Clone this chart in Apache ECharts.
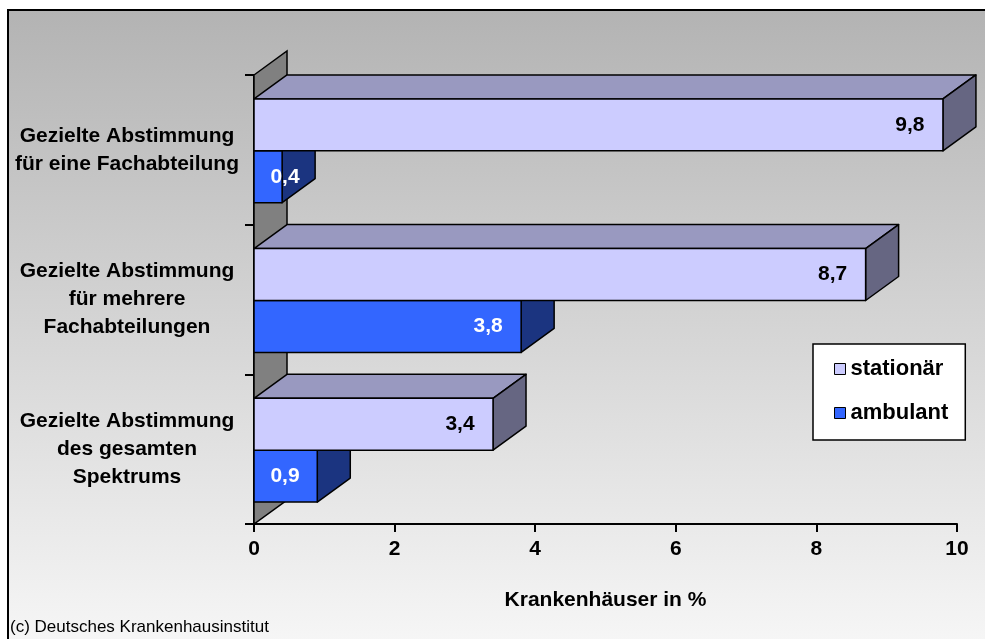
<!DOCTYPE html>
<html>
<head>
<meta charset="utf-8">
<script src="https://cdn.jsdelivr.net/npm/echarts@6/dist/echarts.min.js"></script>
<style>html,body{margin:0;padding:0;background:#fff}#c{width:985px;height:639px}</style>
</head>
<body>
<div id="c"></div>
<script>
const categories = [
  'Gezielte Abstimmung\nfür eine Fachabteilung',
  'Gezielte Abstimmung\nfür mehrere\nFachabteilungen',
  'Gezielte Abstimmung\ndes gesamten\nSpektrums'
];
const stationaer = [9.8, 8.7, 3.4];
const ambulant = [0.4, 3.8, 0.9];
const xTicks = [0, 2, 4, 6, 8, 10];

const FONT = "Arial, 'Liberation Sans', sans-serif";
const DX = 33, DY = -24;

function fmt(v) { return String(v).replace('.', ','); }

function barRenderer(front, top, side, upper, labelColor) {
  return function (params, api) {
    const v = api.value(0), ci = api.value(1);
    const p0 = api.coord([0, ci]);
    const p1 = api.coord([v, ci]);
    const band = api.size([0, 1])[1];
    const h = band * 52 / 150;
    const c = p0[1];
    const y0 = upper ? c - h + 1 : c + 1;
    const y1 = y0 + h;
    const x0 = p0[0], x1 = p1[0];
    const st = { stroke: '#000', lineWidth: 1.5, lineJoin: 'round' };
    const lx = Math.max(x1 - 33, x0 + 31);
    return {
      type: 'group',
      children: [
        { type: 'polygon', shape: { points: [[x0, y0], [x0 + DX, y0 + DY], [x1 + DX, y0 + DY], [x1, y0]] }, style: Object.assign({ fill: top }, st) },
        { type: 'polygon', shape: { points: [[x1, y0], [x1 + DX, y0 + DY], [x1 + DX, y1 + DY], [x1, y1]] }, style: Object.assign({ fill: side }, st) },
        { type: 'rect', shape: { x: x0, y: y0, width: x1 - x0, height: h }, style: Object.assign({ fill: front }, st) },
        { type: 'text', x: lx, y: (y0 + y1) / 2, style: { text: fmt(v), fill: labelColor, font: 'bold 21px ' + FONT, align: 'center', verticalAlign: 'middle' } }
      ]
    };
  };
}

const chart = echarts.init(document.getElementById('c'), null, { renderer: 'canvas' });
chart.setOption({
  backgroundColor: '#ffffff',
  animation: false,
  graphic: [
    { type: 'rect', z: -10, silent: true, shape: { x: 8, y: 10, width: 1000, height: 660 },
      style: { fill: new echarts.graphic.LinearGradient(0, 0, 0, 1, [{ offset: 0, color: '#B3B3B3' }, { offset: 1, color: '#F9F9F9' }]), stroke: '#000', lineWidth: 2 } },
    { type: 'text', left: 10, top: 619, style: { text: '(c) Deutsches Krankenhausinstitut', font: '17px ' + FONT, fill: '#000' } }
  ],
  grid: { left: 254, right: 28, top: 75, bottom: 115, containLabel: false },
  legend: {
    orient: 'vertical', left: 813, top: 344,
    backgroundColor: '#fff', borderColor: '#000', borderWidth: 1.5,
    padding: [14, 17, 16, 21], itemGap: 22, itemWidth: 11, itemHeight: 11,
    icon: 'rect',
    textStyle: { fontFamily: FONT, fontWeight: 'bold', fontSize: 22, color: '#000' },
    data: [
      { name: 'stationär', itemStyle: { color: '#CCCCFF', borderColor: '#000', borderWidth: 1 } },
      { name: 'ambulant', itemStyle: { color: '#3366FF', borderColor: '#000', borderWidth: 1 } }
    ]
  },
  xAxis: {
    type: 'value', min: 0, max: 10, interval: 2,
    axisLine: { show: true, lineStyle: { color: '#000', width: 2 } },
    axisTick: { show: true, length: 8, lineStyle: { color: '#000', width: 2 } },
    splitLine: { show: false },
    axisLabel: { fontFamily: FONT, fontWeight: 'bold', fontSize: 21, color: '#000', margin: 15,
      formatter: v => xTicks.indexOf(v) >= 0 ? String(v) : '' },
    name: 'Krankenhäuser in %', nameLocation: 'middle', nameGap: 66,
    nameTextStyle: { fontFamily: FONT, fontWeight: 'bold', fontSize: 21, color: '#000' }
  },
  yAxis: {
    type: 'category', inverse: true, data: categories,
    axisLine: { show: true, lineStyle: { color: '#000', width: 2 } },
    axisTick: { show: true, length: 9, lineStyle: { color: '#000', width: 2 } },
    axisLabel: { fontFamily: FONT, fontWeight: 'bold', fontSize: 21, color: '#000', margin: 127, align: 'center', lineHeight: 28, padding: [4, 0, 0, 0] }
  },
  series: [
    {
      type: 'custom', name: 'wall', z: 1, silent: true, data: [[0, 0]],
      renderItem: function (params) {
        const cs = params.coordSys;
        const x = cs.x, y = cs.y, h = cs.height;
        return { type: 'polygon', shape: { points: [[x, y], [x + DX, y + DY], [x + DX, y + h + DY], [x, y + h]] },
          style: { fill: '#808080', stroke: '#000', lineWidth: 1.5 } };
      }
    },
    {
      type: 'custom', name: 'ambulant', z: 2,
      itemStyle: { color: '#3366FF' },
      encode: { x: 0, y: 1 },
      data: ambulant.map((v, i) => [v, i]),
      renderItem: barRenderer('#3366FF', '#2650C0', '#1B3480', false, '#ffffff')
    },
    {
      type: 'custom', name: 'stationär', z: 3,
      itemStyle: { color: '#CCCCFF' },
      encode: { x: 0, y: 1 },
      data: stationaer.map((v, i) => [v, i]),
      renderItem: barRenderer('#CCCCFF', '#9999C0', '#666682', true, '#000000')
    }
  ]
});
</script>
</body>
</html>
